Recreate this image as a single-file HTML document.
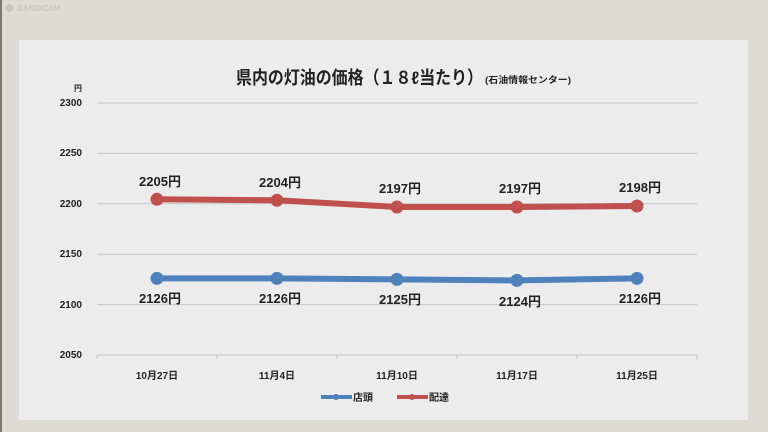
<!DOCTYPE html>
<html><head><meta charset="utf-8"><style>
body{margin:0;width:768px;height:432px;overflow:hidden;background:#dcdcd5;}
svg{display:block}
</style></head><body>
<svg width="768" height="432" viewBox="0 0 768 432" font-family="Liberation Sans, Noto Sans CJK JP, sans-serif">
<rect x="0" y="0" width="768" height="432" fill="#dcdcd5"/>
<rect x="0" y="0" width="2" height="432" fill="#777"/>
<circle cx="9" cy="8" r="4" fill="#c8c8c2"/>
<text x="17" y="11" font-size="8" fill="#c8c8c2" font-weight="bold">BANDICAM</text>
<rect x="19" y="40" width="729" height="380" fill="#ececec"/>
<text x="236" y="84" font-size="18" font-weight="bold" fill="#222" textLength="247" lengthAdjust="spacingAndGlyphs">県内の灯油の価格（１８ℓ当たり）</text>
<text x="485" y="83" font-size="9" font-weight="bold" fill="#222" textLength="86" lengthAdjust="spacingAndGlyphs">(石油情報センター)</text>
<g stroke="#c4c4c4" stroke-width="1">
<line x1="97" y1="103" x2="697" y2="103"/>
<line x1="97" y1="153.4" x2="697" y2="153.4"/>
<line x1="97" y1="203.8" x2="697" y2="203.8"/>
<line x1="97" y1="254.2" x2="697" y2="254.2"/>
<line x1="97" y1="304.6" x2="697" y2="304.6"/>
<line x1="97" y1="355" x2="697" y2="355"/>
<line x1="97" y1="355" x2="97" y2="359"/><line x1="217" y1="355" x2="217" y2="359"/><line x1="337" y1="355" x2="337" y2="359"/><line x1="457" y1="355" x2="457" y2="359"/><line x1="577" y1="355" x2="577" y2="359"/><line x1="697" y1="355" x2="697" y2="359"/>
</g>
<g font-size="10" font-weight="bold" fill="#222" text-anchor="end">
<text x="82" y="91" font-size="8">円</text>
<text x="82" y="106">2300</text><text x="82" y="156">2250</text><text x="82" y="207">2200</text><text x="82" y="257">2150</text><text x="82" y="308">2100</text><text x="82" y="358">2050</text>
</g>
<g font-size="10" font-weight="bold" fill="#222" text-anchor="middle">
<text x="157" y="379">10月27日</text><text x="277" y="379">11月4日</text><text x="397" y="379">11月10日</text><text x="517" y="379">11月17日</text><text x="637" y="379">11月25日</text>
</g>
<polyline points="157,199.3 277,200.3 397,207 517,207 637,206" fill="none" stroke="#c0504d" stroke-width="6"/>
<g fill="#c0504d"><circle cx="157" cy="199.3" r="6.5"/><circle cx="277" cy="200.3" r="6.5"/><circle cx="397" cy="207" r="6.5"/><circle cx="517" cy="207" r="6.5"/><circle cx="637" cy="206" r="6.5"/></g>
<polyline points="157,278.4 277,278.4 397,279.4 517,280.4 637,278.4" fill="none" stroke="#4f81bd" stroke-width="6"/>
<g fill="#4f81bd"><circle cx="157" cy="278.4" r="6.5"/><circle cx="277" cy="278.4" r="6.5"/><circle cx="397" cy="279.4" r="6.5"/><circle cx="517" cy="280.4" r="6.5"/><circle cx="637" cy="278.4" r="6.5"/></g>
<g font-size="13" font-weight="bold" fill="#222" text-anchor="middle">
<text x="160" y="186">2205円</text><text x="280" y="187">2204円</text><text x="400" y="193">2197円</text><text x="520" y="193">2197円</text><text x="640" y="192">2198円</text>
<text x="160" y="303">2126円</text><text x="280" y="303">2126円</text><text x="400" y="304">2125円</text><text x="520" y="306">2124円</text><text x="640" y="303">2126円</text>
</g>
<line x1="321" y1="397" x2="352" y2="397" stroke="#4f81bd" stroke-width="4"/><circle cx="336" cy="397" r="3" fill="#4f81bd"/>
<text x="353" y="401" font-size="10" font-weight="bold" fill="#222">店頭</text>
<line x1="397" y1="397" x2="428" y2="397" stroke="#c0504d" stroke-width="4"/><circle cx="412" cy="397" r="3" fill="#c0504d"/>
<text x="429" y="401" font-size="10" font-weight="bold" fill="#222">配達</text>
</svg>
</body></html>
